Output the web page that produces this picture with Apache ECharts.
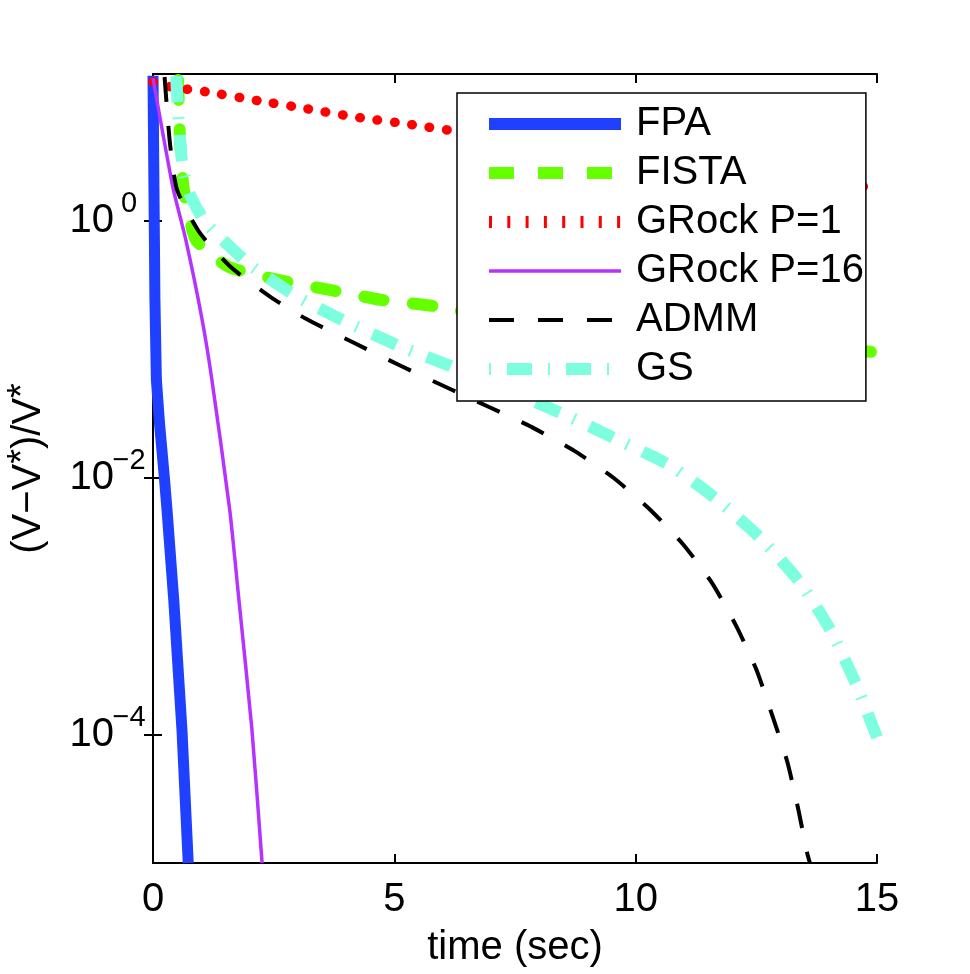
<!DOCTYPE html>
<html>
<head>
<meta charset="utf-8">
<script src="https://cdn.jsdelivr.net/npm/echarts@6/dist/echarts.min.js"></script>
<style>
html,body{margin:0;padding:0;background:#fff;}
#chart{width:970px;height:974px;}
</style>
</head>
<body>
<div id="chart"></div>
<script>
// ---- data (time in seconds, relative error) ----
const seriesNames = ['FPA', 'FISTA', 'GRock P=1', 'GRock P=16', 'ADMM', 'GS'];

const fpaT = [0, 0.02, 0.04, 0.07, 0.134, 0.238, 0.29, 0.43, 0.60, 0.73];
const fpaV = [13.5, 1.74, 0.243, 0.058, 0.0268, 0.0098, 0.00564, 0.00112, 1.09e-4, 1.0e-5];

const fistaT = [0.52, 0.56, 0.64, 0.89, 1.57, 2.69, 3.77, 4.72, 5.79, 6.19, 10.5, 14.9, 15];
const fistaV = [12.5, 4.27, 1.74, 0.711, 0.439, 0.341, 0.285, 0.243, 0.218, 0.203, 0.135, 0.0955, 0.095];

const grock1T = [0, 0.41, 1.12, 2.21, 3.10, 4.18, 5.26, 6.25, 10.5, 14.77, 15];
const grock1V = [12.1, 11.0, 10.1, 8.59, 7.57, 6.45, 5.69, 5.01, 3.1, 1.84, 1.79];

const grock16T = [0, 0.41, 0.68, 1.01, 1.22, 1.59, 1.78, 2.05, 2.26];
const grock16V = [12.9, 1.84, 0.711, 0.176, 0.058, 0.0056, 0.00112, 1.09e-4, 1.0e-5];

const admmT = [0.24, 0.35, 0.50, 0.97, 1.63, 2.46, 3.17, 4.15, 5.13, 6.19, 6.95, 7.84, 8.73, 9.54, 10.30, 10.99, 11.59, 12.08, 12.50, 12.83, 13.14, 13.37, 13.55, 13.61];
const admmV = [13.2, 4.05, 1.74, 0.807, 0.431, 0.252, 0.173, 0.113, 0.0744, 0.0484, 0.0357, 0.0249, 0.0162, 0.0100, 0.00564, 0.00301, 0.0015, 7.05e-4, 3.21e-4, 1.41e-4, 6.17e-5, 2.61e-5, 1.21e-5, 1.0e-5];

const gsT = [0.48, 0.52, 0.62, 0.77, 1.10, 2.01, 2.96, 3.91, 5.13, 6.15, 8.53, 9.62, 10.72, 11.69, 12.60, 13.41, 14.03, 14.57, 15];
const gsV = [13.4, 7.05, 2.49, 1.59, 0.964, 0.455, 0.261, 0.17, 0.105, 0.0744, 0.031, 0.0198, 0.0124, 0.00674, 0.00335, 0.00152, 6.56e-4, 2.45e-4, 9.5e-5];

const xTicks = [0, 5, 10, 15];
const yTicks = [1, 0.01, 0.0001];
const yMin = 1e-5;
const yMax = 13.93;

// ---- chart ----
const FONT = 'Liberation Sans';
function pairs(t, v) { return t.map((x, i) => [x, v[i]]); }

const chart = echarts.init(document.getElementById('chart'), null, {renderer: 'canvas'});

const axisLineStyle = {color: '#000', width: 2};
const tickStyle = {show: true, inside: true, length: 9, lineStyle: {color: '#000', width: 2}};

function expLabel(v) {
  const e = Math.round(Math.log10(v));
  const s = e < 0 ? '\u2212' + (-e) : String(e);
  return '{b|10}{s|' + s + '}';
}

const C = {
  fpa: '#2040ff', fista: '#66ff00', g1: '#ff0000', g16: '#b433ff', admm: '#000000', gs: '#7dffdf'
};

const option = {
  animation: false,
  backgroundColor: '#fff',
  grid: {left: 153, right: 93, top: 74, bottom: 111, containLabel: false, outerBoundsMode: 'none'},
  xAxis: [
    {
      type: 'value', min: xTicks[0], max: xTicks[xTicks.length - 1], interval: 5,
      position: 'bottom',
      axisLine: {show: true, lineStyle: axisLineStyle},
      axisTick: tickStyle,
      splitLine: {show: false},
      axisLabel: {fontSize: 40, fontFamily: FONT, color: '#000', margin: 17},
      name: 'time (sec)', nameLocation: 'middle', nameGap: 65,
      nameTextStyle: {fontSize: 40, fontFamily: FONT, color: '#000'}
    },
    {
      type: 'value', min: xTicks[0], max: xTicks[xTicks.length - 1], interval: 5,
      position: 'top',
      axisLine: {show: true, lineStyle: axisLineStyle},
      axisTick: tickStyle,
      splitLine: {show: false},
      axisLabel: {show: false}
    }
  ],
  yAxis: [
    {
      type: 'log', logBase: 10, min: yMin, max: yMax,
      position: 'left',
      axisLine: {show: true, lineStyle: axisLineStyle},
      axisTick: Object.assign({}, tickStyle, {customValues: yTicks}),
      minorTick: {show: false},
      splitLine: {show: false},
      axisLabel: {
        customValues: yTicks,
        margin: 9,
        formatter: expLabel,
        rich: {
          b: {fontSize: 40, fontFamily: FONT, color: '#000', lineHeight: 62, verticalAlign: 'middle'},
          s: {fontSize: 29, fontFamily: FONT, color: '#000', lineHeight: 30, verticalAlign: 'top', width: 30, align: 'left'}
        }
      },
      name: '{b|(V\u2212V}{s|*}{b|)/V}{s|*}',
      nameLocation: 'middle', nameGap: 100, nameRotate: 90,
      nameTextStyle: {
        fontSize: 40, fontFamily: FONT, color: '#000',
        rich: {
          b: {fontSize: 40, fontFamily: FONT, color: '#000', lineHeight: 48, verticalAlign: 'middle'},
          s: {fontSize: 38, fontFamily: FONT, color: '#000', lineHeight: 38, verticalAlign: 'top'}
        }
      }
    },
    {
      type: 'log', logBase: 10, min: yMin, max: yMax,
      position: 'right',
      axisLine: {show: true, lineStyle: axisLineStyle},
      axisTick: Object.assign({}, tickStyle, {customValues: yTicks}),
      minorTick: {show: false},
      splitLine: {show: false},
      axisLabel: {show: false}
    }
  ],
  legend: {
    orient: 'vertical',
    left: 457, top: 93,
    padding: [11, 2, 12, 26],
    itemWidth: 132, itemHeight: 14, itemGap: 9,
    backgroundColor: '#fff',
    borderColor: '#000', borderWidth: 1.5,
    itemStyle: {opacity: 0},
    textStyle: {fontSize: 40, fontFamily: FONT, color: '#000', lineHeight: 40, padding: [0, 0, 0, 10]},
    data: [
      {name: 'FPA', lineStyle: {color: C.fpa, width: 12, type: 'solid', cap: 'butt'}},
      {name: 'FISTA', lineStyle: {color: C.fista, width: 12, type: [25, 24], cap: 'butt'}},
      {name: 'GRock P=1', lineStyle: {color: C.g1, width: 12, type: [3, 15.3], cap: 'butt'}},
      {name: 'GRock P=16', lineStyle: {color: C.g16, width: 3.5, type: 'solid', cap: 'butt'}},
      {name: 'ADMM', lineStyle: {color: C.admm, width: 4, type: [25, 24], cap: 'butt'}},
      {name: 'GS', lineStyle: {color: C.gs, width: 12, type: [2, 16, 25, 16], cap: 'butt'}}
    ]
  },
  series: [
    {
      name: 'FPA', type: 'line', symbol: 'none', smooth: false,
      data: pairs(fpaT, fpaV),
      lineStyle: {color: C.fpa, width: 11, join: 'round'},
      itemStyle: {color: C.fpa}
    },
    {
      name: 'FISTA', type: 'line', symbol: 'none', smooth: 0.2,
      data: pairs(fistaT, fistaV),
      lineStyle: {color: C.fista, width: 12, type: [20, 29], cap: 'round'},
      itemStyle: {color: C.fista}
    },
    {
      name: 'GRock P=1', type: 'line', symbol: 'none', smooth: 0.2,
      data: pairs(grock1T, grock1V),
      lineStyle: {color: C.g1, width: 9.5, type: [0.5, 17], cap: 'round'},
      itemStyle: {color: C.g1}
    },
    {
      name: 'GRock P=16', type: 'line', symbol: 'none', smooth: 0.2,
      data: pairs(grock16T, grock16V),
      lineStyle: {color: C.g16, width: 3.5},
      itemStyle: {color: C.g16}
    },
    {
      name: 'ADMM', type: 'line', symbol: 'none', smooth: 0.2,
      data: pairs(admmT, admmV),
      lineStyle: {color: C.admm, width: 4, type: [25, 24]},
      itemStyle: {color: C.admm}
    },
    {
      name: 'GS', type: 'line', symbol: 'none', smooth: 0.2,
      data: pairs(gsT, gsV),
      lineStyle: {color: C.gs, width: 12, type: [26, 15, 2, 16], cap: 'butt'},
      itemStyle: {color: C.gs}
    }
  ]
};

chart.setOption(option);
</script>
</body>
</html>
